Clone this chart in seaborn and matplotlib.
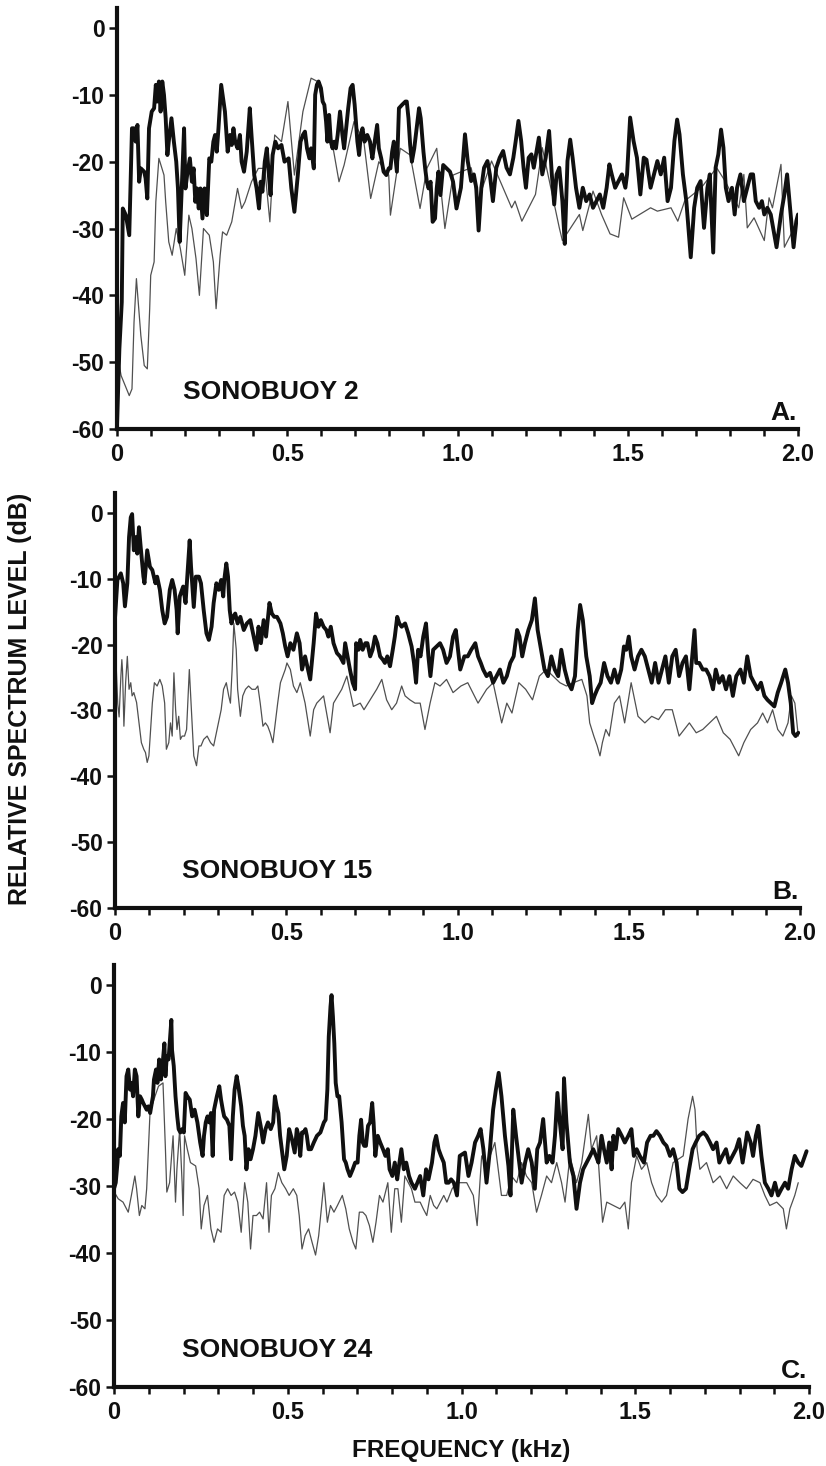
import numpy as np
import pandas as pd
import matplotlib
matplotlib.use("Agg")
import matplotlib.pyplot as plt
import seaborn as sns

# digitised spectra: (frequency in kHz, relative level in dB)
# "strong" = heavy trace, "weak" = thin trace

A_STRONG = [
    (0.000, -59.5), (0.007, -48.0), (0.014, -41.0), (0.017, -27.0), (0.026, -28.0), (0.036, -31.0),
    (0.044, -15.0), (0.050, -15.0), (0.055, -17.0), (0.060, -14.5), (0.065, -23.0), (0.070, -21.0),
    (0.080, -21.5), (0.084, -22.5), (0.089, -25.5), (0.094, -15.0), (0.102, -12.5), (0.109, -12.0),
    (0.114, -8.5), (0.118, -11.0), (0.123, -8.0), (0.128, -12.5), (0.133, -8.0), (0.138, -10.0),
    (0.143, -13.5), (0.148, -19.0), (0.152, -17.0), (0.160, -13.5), (0.167, -17.0), (0.174, -20.0),
    (0.179, -24.0), (0.184, -32.0), (0.191, -23.0), (0.197, -15.0), (0.201, -24.0), (0.206, -22.0),
    (0.214, -19.5), (0.220, -23.0), (0.225, -21.0), (0.230, -26.0), (0.235, -24.0), (0.240, -27.0),
    (0.245, -24.0), (0.251, -28.5), (0.257, -24.0), (0.264, -28.0), (0.271, -19.5), (0.277, -20.0),
    (0.283, -17.0), (0.288, -16.0), (0.293, -18.5), (0.298, -15.0), (0.306, -8.5), (0.313, -11.0),
    (0.317, -12.5), (0.325, -18.5), (0.332, -16.0), (0.337, -17.5), (0.342, -15.0), (0.347, -17.0),
    (0.354, -18.0), (0.361, -16.0), (0.366, -20.0), (0.373, -21.5), (0.381, -18.5), (0.390, -12.0),
    (0.395, -16.0), (0.403, -22.0), (0.410, -24.0), (0.417, -27.0), (0.422, -23.0), (0.427, -24.5),
    (0.434, -20.0), (0.440, -18.0), (0.446, -22.0), (0.451, -25.0), (0.457, -19.0), (0.465, -17.0),
    (0.473, -18.0), (0.483, -17.5), (0.492, -20.0), (0.504, -19.5), (0.512, -24.0), (0.521, -27.5),
    (0.531, -22.0), (0.539, -17.0), (0.546, -16.0), (0.552, -15.5), (0.558, -18.0), (0.565, -19.5),
    (0.570, -18.0), (0.578, -21.0), (0.582, -10.0), (0.587, -8.5), (0.592, -8.0), (0.599, -9.0),
    (0.604, -11.0), (0.609, -11.5), (0.614, -14.0), (0.618, -17.0), (0.623, -13.0), (0.628, -17.0),
    (0.633, -18.0), (0.638, -17.0), (0.643, -18.0), (0.648, -16.0), (0.655, -12.5), (0.662, -16.0),
    (0.667, -18.0), (0.673, -15.0), (0.679, -12.0), (0.686, -9.0), (0.692, -8.5), (0.698, -11.5),
    (0.706, -17.0), (0.711, -19.0), (0.716, -16.0), (0.721, -15.0), (0.727, -17.0), (0.735, -16.0),
    (0.743, -17.0), (0.750, -19.5), (0.754, -18.0), (0.764, -14.5), (0.769, -18.0), (0.776, -19.5),
    (0.783, -21.5), (0.791, -22.0), (0.798, -21.0), (0.803, -21.0), (0.808, -18.5), (0.813, -17.0),
    (0.817, -19.0), (0.822, -21.5), (0.828, -12.0), (0.837, -11.5), (0.847, -11.0), (0.851, -11.0),
    (0.856, -13.5), (0.861, -17.5), (0.866, -20.0), (0.873, -18.0), (0.881, -14.5), (0.887, -12.0),
    (0.892, -13.5), (0.900, -18.5), (0.905, -21.0), (0.910, -23.0), (0.915, -24.0), (0.921, -23.0),
    (0.927, -29.0), (0.934, -28.5), (0.939, -24.0), (0.944, -21.5), (0.950, -25.0), (0.958, -20.5),
    (0.968, -21.0), (0.978, -21.5), (0.987, -23.0), (0.997, -27.0), (1.010, -23.9), (1.022, -15.9),
    (1.030, -19.9), (1.040, -22.9), (1.048, -21.9), (1.055, -23.9), (1.062, -30.3), (1.070, -23.9),
    (1.078, -20.9), (1.088, -19.9), (1.095, -21.9), (1.104, -25.9), (1.114, -20.9), (1.124, -19.4),
    (1.134, -18.4), (1.144, -20.9), (1.154, -21.9), (1.164, -19.4), (1.171, -16.9), (1.179, -13.9),
    (1.187, -16.9), (1.194, -20.9), (1.201, -23.9), (1.209, -19.4), (1.217, -18.9), (1.224, -20.9),
    (1.239, -16.4), (1.249, -21.9), (1.259, -19.4), (1.269, -15.4), (1.277, -21.9), (1.284, -26.4),
    (1.291, -21.9), (1.299, -20.9), (1.308, -25.9), (1.315, -32.3), (1.323, -19.9), (1.331, -16.7),
    (1.338, -19.4), (1.348, -23.9), (1.358, -26.9), (1.368, -23.9), (1.378, -25.9), (1.388, -24.9),
    (1.398, -26.9), (1.408, -25.9), (1.418, -24.9), (1.428, -26.9), (1.438, -23.9), (1.446, -20.4),
    (1.453, -21.9), (1.463, -23.9), (1.473, -22.9), (1.483, -21.9), (1.493, -23.9), (1.498, -21.9),
    (1.507, -13.4), (1.517, -16.9), (1.527, -19.4), (1.537, -24.9), (1.547, -19.4), (1.555, -19.7),
    (1.567, -23.9), (1.577, -21.9), (1.587, -19.9), (1.597, -21.9), (1.607, -19.4), (1.617, -25.9),
    (1.627, -23.9), (1.637, -16.9), (1.645, -13.7), (1.652, -15.9), (1.662, -21.9), (1.672, -25.9),
    (1.685, -34.3), (1.695, -26.9), (1.704, -23.9), (1.714, -22.9), (1.724, -29.9), (1.734, -23.9),
    (1.741, -21.9), (1.751, -33.6), (1.758, -20.9), (1.766, -18.9), (1.774, -15.2), (1.781, -17.9),
    (1.788, -23.9), (1.796, -25.9), (1.806, -23.9), (1.814, -27.9), (1.821, -23.9), (1.831, -21.9),
    (1.841, -25.9), (1.851, -23.9), (1.861, -21.9), (1.868, -21.9), (1.876, -25.9), (1.886, -26.9),
    (1.894, -25.9), (1.901, -27.9), (1.910, -26.9), (1.920, -27.9), (1.930, -30.8), (1.937, -32.8),
    (1.950, -27.9), (1.960, -24.9), (1.968, -21.9), (1.975, -25.9), (1.987, -32.8), (1.995, -28.9),
    (2.000, -27.9),
]

A_WEAK = [
    (0.005, -50.0), (0.012, -52.0), (0.036, -55.0), (0.044, -54.0), (0.050, -44.0), (0.057, -37.5),
    (0.070, -46.0), (0.080, -50.5), (0.089, -51.0), (0.096, -42.0), (0.099, -37.0), (0.109, -35.0),
    (0.114, -26.0), (0.123, -19.5), (0.138, -22.0), (0.143, -26.0), (0.152, -32.0), (0.162, -34.0),
    (0.174, -30.0), (0.186, -33.0), (0.199, -37.0), (0.211, -28.0), (0.220, -30.0), (0.232, -34.5),
    (0.242, -40.0), (0.254, -30.0), (0.271, -31.0), (0.283, -35.0), (0.291, -42.0), (0.303, -34.0),
    (0.310, -30.5), (0.322, -31.0), (0.337, -29.0), (0.354, -24.0), (0.366, -27.0), (0.376, -26.0),
    (0.395, -23.0), (0.415, -21.0), (0.434, -21.0), (0.449, -29.0), (0.463, -16.0), (0.483, -17.0),
    (0.502, -11.0), (0.521, -22.0), (0.546, -12.5), (0.570, -7.5), (0.589, -8.0), (0.609, -12.0),
    (0.628, -16.0), (0.652, -23.0), (0.667, -20.5), (0.696, -14.0), (0.725, -17.0), (0.745, -25.5),
    (0.769, -20.0), (0.798, -22.0), (0.803, -28.0), (0.832, -18.0), (0.861, -19.0), (0.890, -27.0),
    (0.910, -21.0), (0.939, -18.0), (0.963, -30.0), (0.987, -22.0), (1.040, -20.9), (1.060, -25.9),
    (1.100, -19.9), (1.159, -26.9), (1.169, -25.9), (1.189, -28.9), (1.229, -24.9), (1.249, -17.9),
    (1.299, -29.9), (1.308, -31.8), (1.358, -27.9), (1.368, -30.3), (1.398, -24.4), (1.423, -27.9),
    (1.448, -30.8), (1.473, -31.3), (1.488, -25.4), (1.512, -28.6), (1.567, -26.9), (1.587, -27.4),
    (1.627, -26.9), (1.647, -28.9), (1.667, -25.9), (1.716, -23.9), (1.761, -20.9), (1.786, -22.9),
    (1.826, -26.9), (1.841, -21.9), (1.851, -29.9), (1.871, -28.4), (1.901, -31.8), (1.915, -25.4),
    (1.925, -26.9), (1.950, -20.4), (1.960, -32.8), (1.985, -30.3), (2.000, -28.0),
]

B_STRONG = [
    (0.000, -16.0), (0.007, -10.2), (0.017, -9.2), (0.024, -10.7), (0.029, -14.2), (0.036, -10.7),
    (0.041, -3.7), (0.046, -0.7), (0.050, -0.2), (0.055, -5.7), (0.060, -3.7), (0.065, -6.2),
    (0.070, -2.2), (0.075, -5.2), (0.083, -9.7), (0.086, -10.7), (0.094, -5.7), (0.102, -8.2),
    (0.109, -8.7), (0.118, -10.7), (0.123, -9.7), (0.131, -11.7), (0.138, -14.8), (0.145, -16.8),
    (0.152, -15.8), (0.160, -11.7), (0.167, -10.2), (0.174, -11.7), (0.180, -14.8), (0.183, -18.3),
    (0.189, -12.7), (0.199, -11.2), (0.206, -13.7), (0.211, -9.7), (0.218, -4.2), (0.222, -8.2),
    (0.230, -14.3), (0.236, -9.7), (0.245, -9.7), (0.251, -10.7), (0.259, -14.8), (0.267, -18.3),
    (0.274, -19.3), (0.282, -17.3), (0.288, -13.7), (0.296, -10.7), (0.303, -11.7), (0.310, -10.2),
    (0.316, -12.7), (0.319, -10.2), (0.325, -7.7), (0.330, -9.7), (0.335, -14.8), (0.340, -16.8),
    (0.345, -15.8), (0.351, -15.3), (0.358, -16.8), (0.366, -15.8), (0.376, -17.8), (0.385, -16.8),
    (0.395, -16.3), (0.405, -18.8), (0.413, -20.8), (0.419, -17.3), (0.426, -19.8), (0.434, -16.3),
    (0.441, -18.8), (0.446, -16.3), (0.451, -13.7), (0.458, -15.3), (0.465, -15.8), (0.473, -15.8),
    (0.483, -16.8), (0.490, -18.3), (0.497, -20.3), (0.504, -21.8), (0.512, -19.8), (0.521, -20.8),
    (0.531, -18.3), (0.539, -19.8), (0.546, -23.8), (0.555, -21.8), (0.570, -25.3), (0.580, -19.8),
    (0.587, -15.3), (0.594, -17.3), (0.601, -16.3), (0.609, -17.3), (0.617, -17.8), (0.623, -18.8),
    (0.630, -17.3), (0.638, -19.8), (0.648, -21.3), (0.657, -21.8), (0.667, -22.8), (0.672, -19.8),
    (0.679, -21.8), (0.686, -23.8), (0.694, -25.8), (0.701, -26.8), (0.704, -19.8), (0.711, -20.8),
    (0.716, -19.3), (0.723, -20.8), (0.731, -19.8), (0.737, -19.8), (0.745, -21.8), (0.752, -20.8),
    (0.759, -18.8), (0.766, -19.8), (0.774, -21.8), (0.782, -22.3), (0.788, -22.8), (0.795, -21.8),
    (0.803, -23.3), (0.811, -20.8), (0.817, -18.8), (0.824, -15.8), (0.830, -16.8), (0.837, -17.3),
    (0.847, -16.8), (0.856, -18.3), (0.866, -20.3), (0.873, -22.8), (0.879, -25.8), (0.885, -20.8),
    (0.892, -21.8), (0.900, -18.8), (0.908, -16.8), (0.915, -21.8), (0.921, -24.8), (0.929, -20.8),
    (0.939, -20.3), (0.949, -19.8), (0.958, -20.8), (0.968, -22.8), (0.978, -21.8), (0.987, -18.8),
    (0.995, -17.8), (1.008, -23.8), (1.020, -21.8), (1.030, -21.8), (1.040, -20.8), (1.052, -19.8),
    (1.060, -21.8), (1.068, -22.8), (1.075, -23.8), (1.085, -24.8), (1.095, -24.3), (1.104, -25.8),
    (1.114, -24.8), (1.124, -23.8), (1.134, -25.8), (1.144, -24.8), (1.154, -22.8), (1.164, -21.8),
    (1.174, -17.8), (1.181, -18.8), (1.189, -21.8), (1.197, -19.8), (1.207, -17.8), (1.217, -16.3),
    (1.226, -13.0), (1.234, -17.8), (1.244, -20.8), (1.254, -23.8), (1.264, -24.8), (1.274, -21.8),
    (1.284, -23.8), (1.294, -24.8), (1.303, -20.8), (1.313, -23.8), (1.323, -25.8), (1.333, -26.8),
    (1.343, -24.8), (1.351, -17.8), (1.358, -14.0), (1.366, -16.3), (1.376, -21.8), (1.386, -24.8),
    (1.393, -28.9), (1.400, -27.8), (1.408, -26.8), (1.418, -25.8), (1.428, -22.8), (1.438, -24.8),
    (1.448, -25.8), (1.458, -23.8), (1.468, -25.8), (1.478, -23.8), (1.486, -20.3), (1.493, -20.8),
    (1.500, -18.8), (1.507, -21.8), (1.517, -23.8), (1.527, -21.8), (1.537, -20.8), (1.547, -21.8),
    (1.557, -23.8), (1.567, -25.8), (1.577, -22.8), (1.587, -25.8), (1.597, -23.8), (1.607, -21.8),
    (1.617, -25.8), (1.627, -21.8), (1.637, -20.8), (1.647, -24.8), (1.657, -22.8), (1.667, -21.8),
    (1.677, -26.8), (1.692, -17.8), (1.697, -22.8), (1.706, -22.8), (1.716, -23.8), (1.726, -23.8),
    (1.736, -24.8), (1.746, -26.8), (1.754, -23.8), (1.764, -25.8), (1.774, -24.8), (1.784, -26.8),
    (1.794, -24.8), (1.804, -27.8), (1.814, -24.8), (1.826, -23.8), (1.836, -25.8), (1.846, -21.8),
    (1.856, -24.8), (1.866, -25.8), (1.876, -26.8), (1.886, -25.8), (1.896, -27.8), (1.905, -28.4),
    (1.915, -28.9), (1.925, -29.4), (1.935, -27.3), (1.945, -25.8), (1.957, -23.8), (1.965, -25.8),
    (1.973, -28.9), (1.980, -33.4), (1.987, -33.9), (1.995, -33.4),
]

B_WEAK = [
    (0.000, -30.0), (0.004, -24.0), (0.008, -29.0), (0.012, -31.0), (0.017, -25.0), (0.020, -22.3),
    (0.022, -24.0), (0.026, -32.4), (0.031, -25.8), (0.036, -21.8), (0.041, -26.8), (0.046, -25.8),
    (0.050, -27.8), (0.055, -27.3), (0.063, -28.8), (0.070, -31.9), (0.077, -34.9), (0.084, -35.9),
    (0.089, -36.4), (0.094, -37.9), (0.099, -36.9), (0.104, -32.9), (0.109, -28.9), (0.115, -25.8),
    (0.123, -26.3), (0.131, -25.3), (0.138, -26.3), (0.145, -28.9), (0.150, -35.9), (0.157, -34.9),
    (0.162, -31.9), (0.167, -33.9), (0.172, -24.3), (0.177, -29.9), (0.181, -32.9), (0.186, -30.9),
    (0.191, -34.4), (0.196, -33.9), (0.203, -33.9), (0.209, -32.9), (0.217, -23.8), (0.223, -29.9),
    (0.230, -36.9), (0.238, -38.4), (0.245, -35.4), (0.251, -35.4), (0.259, -34.4), (0.269, -33.9),
    (0.279, -34.9), (0.288, -35.4), (0.298, -32.9), (0.310, -29.9), (0.317, -26.8), (0.325, -25.8),
    (0.332, -27.8), (0.337, -28.9), (0.342, -23.8), (0.347, -16.8), (0.354, -20.8), (0.358, -26.8),
    (0.366, -30.9), (0.373, -27.8), (0.381, -26.8), (0.390, -26.3), (0.400, -26.8), (0.410, -26.8),
    (0.417, -26.3), (0.424, -28.9), (0.432, -32.4), (0.439, -31.9), (0.446, -32.4), (0.453, -33.4),
    (0.461, -34.9), (0.468, -31.9), (0.475, -28.9), (0.483, -25.8), (0.490, -24.8), (0.497, -23.8),
    (0.502, -22.8), (0.512, -23.8), (0.521, -26.3), (0.531, -27.3), (0.541, -25.8), (0.555, -28.9),
    (0.570, -33.9), (0.580, -29.9), (0.589, -28.9), (0.609, -27.8), (0.628, -33.4), (0.638, -28.9),
    (0.662, -26.8), (0.677, -24.8), (0.696, -29.4), (0.716, -28.9), (0.727, -29.9), (0.745, -28.4),
    (0.764, -26.8), (0.779, -25.3), (0.793, -28.4), (0.808, -29.9), (0.822, -28.9), (0.837, -26.3),
    (0.847, -27.8), (0.861, -28.4), (0.876, -28.9), (0.891, -28.9), (0.905, -32.9), (0.920, -28.9),
    (0.934, -25.8), (0.949, -26.3), (0.968, -25.3), (0.987, -27.3), (1.010, -26.3), (1.030, -25.8),
    (1.060, -28.9), (1.085, -26.8), (1.104, -25.8), (1.129, -31.9), (1.144, -28.9), (1.159, -30.4),
    (1.179, -25.8), (1.199, -26.8), (1.219, -28.4), (1.239, -24.8), (1.259, -23.8), (1.279, -24.8),
    (1.299, -25.8), (1.318, -26.3), (1.338, -25.8), (1.363, -25.3), (1.378, -27.8), (1.386, -31.9),
    (1.398, -33.9), (1.408, -35.4), (1.416, -36.9), (1.423, -34.9), (1.433, -32.9), (1.443, -33.9),
    (1.458, -28.9), (1.473, -27.8), (1.488, -31.9), (1.507, -25.8), (1.527, -30.9), (1.547, -31.9),
    (1.567, -30.9), (1.587, -31.4), (1.607, -29.9), (1.627, -29.9), (1.647, -33.9), (1.662, -32.9),
    (1.677, -31.9), (1.697, -33.4), (1.716, -32.9), (1.736, -31.9), (1.756, -30.9), (1.776, -33.4),
    (1.796, -34.4), (1.821, -36.9), (1.836, -34.9), (1.856, -32.9), (1.876, -31.9), (1.891, -30.4),
    (1.905, -31.9), (1.920, -29.9), (1.935, -32.9), (1.950, -33.9), (1.965, -31.9), (1.975, -27.8),
    (1.985, -28.9), (1.995, -33.9),
]

C_STRONG = [
    (0.000, -30.4), (0.005, -29.5), (0.010, -26.5), (0.012, -24.5), (0.017, -25.5), (0.021, -19.6),
    (0.026, -17.6), (0.031, -20.5), (0.036, -13.6), (0.041, -12.6), (0.046, -15.6), (0.050, -14.6),
    (0.055, -16.6), (0.060, -12.6), (0.065, -13.6), (0.070, -19.6), (0.075, -16.6), (0.080, -17.1),
    (0.084, -17.6), (0.094, -18.6), (0.099, -18.1), (0.104, -19.1), (0.112, -16.6), (0.115, -14.1),
    (0.121, -12.6), (0.125, -14.6), (0.130, -11.1), (0.135, -14.1), (0.141, -11.1), (0.145, -8.7),
    (0.148, -13.6), (0.152, -10.6), (0.157, -11.1), (0.165, -5.2), (0.167, -9.7), (0.172, -12.1),
    (0.177, -16.6), (0.182, -19.6), (0.186, -21.5), (0.191, -22.0), (0.196, -21.5), (0.201, -22.0),
    (0.206, -16.1), (0.211, -16.6), (0.218, -17.1), (0.225, -19.6), (0.232, -18.6), (0.240, -20.5),
    (0.248, -23.5), (0.255, -25.5), (0.259, -22.5), (0.264, -20.5), (0.269, -19.6), (0.274, -20.5),
    (0.279, -19.1), (0.284, -25.5), (0.288, -18.6), (0.296, -16.6), (0.303, -15.1), (0.308, -17.1),
    (0.313, -18.6), (0.317, -19.6), (0.325, -20.1), (0.332, -21.0), (0.337, -26.0), (0.342, -19.6),
    (0.347, -15.6), (0.353, -13.6), (0.358, -15.1), (0.366, -18.1), (0.371, -21.0), (0.376, -22.5),
    (0.381, -27.5), (0.387, -24.5), (0.393, -26.0), (0.400, -24.5), (0.407, -22.5), (0.415, -19.1),
    (0.422, -21.0), (0.429, -23.5), (0.436, -21.5), (0.443, -20.5), (0.451, -21.5), (0.458, -20.5),
    (0.463, -16.6), (0.468, -18.1), (0.473, -19.1), (0.478, -22.5), (0.484, -25.0), (0.490, -27.5),
    (0.497, -25.5), (0.504, -21.5), (0.512, -23.0), (0.520, -25.0), (0.526, -21.5), (0.531, -22.5),
    (0.536, -25.5), (0.541, -22.0), (0.546, -22.0), (0.551, -21.5), (0.555, -22.5), (0.560, -24.5),
    (0.567, -24.5), (0.575, -23.5), (0.584, -22.5), (0.594, -22.0), (0.604, -20.5), (0.609, -20.1),
    (0.614, -15.6), (0.618, -7.7), (0.623, -3.2), (0.626, -1.5), (0.630, -4.7), (0.634, -8.7),
    (0.638, -14.6), (0.643, -16.6), (0.648, -16.6), (0.655, -20.5), (0.662, -26.0), (0.667, -26.5),
    (0.672, -27.5), (0.679, -28.5), (0.687, -27.5), (0.694, -26.5), (0.701, -26.5), (0.706, -22.5),
    (0.711, -20.1), (0.716, -23.5), (0.720, -24.0), (0.725, -24.0), (0.731, -21.0), (0.737, -20.5),
    (0.743, -17.6), (0.747, -20.5), (0.752, -25.5), (0.759, -22.5), (0.766, -23.5), (0.774, -24.5),
    (0.781, -25.5), (0.788, -24.5), (0.793, -27.5), (0.801, -28.5), (0.808, -26.5), (0.815, -29.0),
    (0.820, -27.0), (0.827, -24.5), (0.834, -27.5), (0.841, -26.5), (0.849, -28.5), (0.856, -29.5),
    (0.866, -30.4), (0.873, -29.5), (0.881, -28.5), (0.890, -31.4), (0.898, -27.5), (0.905, -29.0),
    (0.915, -26.5), (0.922, -23.5), (0.927, -22.5), (0.934, -24.5), (0.941, -25.5), (0.949, -26.5),
    (0.956, -29.5), (0.963, -29.5), (0.970, -29.0), (0.978, -29.5), (0.987, -31.4), (0.995, -25.5),
    (1.010, -25.0), (1.020, -28.5), (1.029, -26.5), (1.039, -23.5), (1.048, -22.5), (1.055, -21.5),
    (1.063, -24.5), (1.072, -29.5), (1.082, -24.5), (1.091, -18.6), (1.099, -15.6), (1.107, -13.1),
    (1.115, -16.6), (1.125, -22.5), (1.135, -27.0), (1.141, -31.4), (1.149, -18.6), (1.157, -22.5),
    (1.166, -26.5), (1.173, -29.5), (1.183, -26.5), (1.192, -24.5), (1.202, -26.5), (1.211, -30.4),
    (1.218, -24.5), (1.226, -23.5), (1.235, -20.0), (1.245, -26.5), (1.253, -25.5), (1.262, -26.5),
    (1.269, -22.5), (1.276, -16.1), (1.283, -20.5), (1.291, -24.5), (1.295, -13.9), (1.302, -20.5),
    (1.312, -26.5), (1.322, -28.5), (1.331, -33.4), (1.341, -29.5), (1.350, -27.5), (1.360, -26.5),
    (1.370, -25.5), (1.379, -24.5), (1.387, -25.5), (1.394, -26.5), (1.403, -22.5), (1.410, -24.5),
    (1.418, -26.5), (1.425, -23.5), (1.432, -27.5), (1.437, -22.5), (1.444, -24.5), (1.451, -21.5),
    (1.461, -22.5), (1.470, -23.5), (1.480, -22.5), (1.489, -21.5), (1.496, -25.5), (1.504, -24.5),
    (1.513, -25.5), (1.525, -26.5), (1.534, -23.5), (1.544, -22.5), (1.552, -22.5), (1.561, -21.8),
    (1.571, -22.5), (1.581, -23.5), (1.590, -24.0), (1.600, -25.5), (1.609, -24.5), (1.619, -26.5),
    (1.627, -30.4), (1.636, -30.9), (1.646, -30.4), (1.655, -27.5), (1.665, -24.5), (1.674, -23.5),
    (1.684, -22.5), (1.696, -22.0), (1.705, -22.5), (1.715, -23.5), (1.724, -24.5), (1.734, -23.5),
    (1.742, -26.5), (1.751, -25.5), (1.761, -24.5), (1.770, -26.5), (1.780, -25.5), (1.790, -24.5),
    (1.799, -23.0), (1.809, -26.5), (1.815, -24.5), (1.822, -22.0), (1.832, -23.5), (1.839, -25.5),
    (1.847, -22.5), (1.854, -21.0), (1.863, -25.5), (1.873, -29.5), (1.883, -30.4), (1.892, -31.4),
    (1.902, -29.5), (1.911, -31.4), (1.921, -30.4), (1.931, -29.5), (1.940, -30.4), (1.950, -27.5),
    (1.959, -25.5), (1.969, -26.5), (1.978, -27.0), (1.988, -25.5), (1.993, -24.8),
]

C_WEAK = [
    (0.000, -30.4), (0.002, -31.0), (0.012, -31.9), (0.026, -32.4), (0.041, -33.9), (0.050, -31.4),
    (0.060, -28.5), (0.065, -30.4), (0.073, -34.4), (0.080, -32.9), (0.089, -33.4), (0.094, -30.4),
    (0.099, -24.5), (0.104, -18.6), (0.112, -17.6), (0.118, -16.6), (0.128, -15.1), (0.141, -14.6),
    (0.148, -24.5), (0.152, -30.9), (0.160, -29.5), (0.170, -22.5), (0.177, -32.4), (0.181, -27.5),
    (0.189, -21.5), (0.196, -29.5), (0.199, -34.4), (0.203, -22.5), (0.211, -24.5), (0.220, -26.5),
    (0.235, -27.0), (0.245, -30.4), (0.251, -36.4), (0.259, -32.9), (0.269, -31.4), (0.279, -36.4),
    (0.288, -38.4), (0.298, -36.4), (0.308, -36.9), (0.317, -31.4), (0.327, -30.4), (0.337, -31.4),
    (0.347, -30.9), (0.356, -32.4), (0.366, -36.9), (0.376, -29.5), (0.385, -32.4), (0.393, -39.4),
    (0.400, -34.4), (0.410, -34.4), (0.419, -33.9), (0.429, -34.9), (0.439, -29.5), (0.446, -36.9),
    (0.453, -31.4), (0.463, -30.4), (0.473, -28.0), (0.483, -29.5), (0.494, -30.4), (0.504, -31.4),
    (0.516, -30.4), (0.526, -31.4), (0.533, -34.4), (0.541, -39.4), (0.550, -37.4), (0.560, -36.4),
    (0.570, -38.4), (0.580, -40.3), (0.589, -37.4), (0.604, -29.5), (0.614, -35.4), (0.623, -32.9),
    (0.633, -33.9), (0.643, -32.9), (0.657, -31.4), (0.667, -33.4), (0.677, -36.4), (0.688, -38.4),
    (0.696, -39.4), (0.706, -33.9), (0.716, -33.9), (0.725, -34.4), (0.735, -35.9), (0.745, -38.4),
    (0.754, -35.4), (0.764, -31.4), (0.774, -32.4), (0.788, -29.5), (0.798, -36.9), (0.808, -30.4),
    (0.817, -30.4), (0.827, -35.4), (0.837, -28.5), (0.847, -29.5), (0.856, -30.4), (0.866, -32.4),
    (0.881, -32.4), (0.890, -33.4), (0.900, -34.4), (0.910, -31.4), (0.920, -32.9), (0.929, -33.4),
    (0.939, -32.4), (0.949, -31.4), (0.958, -32.4), (0.973, -30.4), (0.987, -29.5), (1.015, -29.5),
    (1.034, -31.4), (1.045, -35.9), (1.058, -25.5), (1.072, -27.0), (1.096, -23.5), (1.115, -31.4),
    (1.130, -31.4), (1.144, -28.5), (1.159, -29.5), (1.173, -26.5), (1.187, -28.5), (1.202, -29.5),
    (1.216, -33.9), (1.230, -31.4), (1.245, -28.5), (1.259, -29.5), (1.274, -26.5), (1.288, -29.5),
    (1.298, -32.4), (1.312, -25.5), (1.331, -29.5), (1.346, -26.5), (1.365, -19.3), (1.374, -24.5),
    (1.389, -22.5), (1.398, -29.5), (1.406, -35.4), (1.418, -32.4), (1.437, -32.9), (1.456, -33.4),
    (1.470, -32.4), (1.480, -36.4), (1.489, -29.5), (1.504, -25.5), (1.518, -27.5), (1.533, -26.5),
    (1.547, -29.5), (1.561, -31.4), (1.576, -32.4), (1.590, -31.4), (1.609, -26.5), (1.638, -25.5),
    (1.652, -20.0), (1.665, -16.6), (1.672, -18.6), (1.678, -24.5), (1.686, -27.5), (1.705, -26.5),
    (1.724, -29.5), (1.744, -28.5), (1.763, -30.4), (1.782, -28.5), (1.801, -29.5), (1.820, -30.4),
    (1.839, -29.0), (1.859, -29.5), (1.873, -31.4), (1.887, -32.9), (1.907, -32.4), (1.926, -33.4),
    (1.935, -36.4), (1.945, -33.4), (1.959, -31.4), (1.969, -29.5),
]

PANEL_NAMES = ["SONOBUOY 2", "SONOBUOY 15", "SONOBUOY 24"]
PANEL_TAGS = ["A.", "B.", "C."]
Y_TICKS = [0, -10, -20, -30, -40, -50, -60]
Y_TICK_LABELS = ["0", "-10", "-20", "-30", "-40", "-50", "-60"]
X_LABELLED = {0.0: "0", 0.5: "0.5", 1.0: "1.0", 1.5: "1.5", 2.0: "2.0"}

sns.set_style("ticks")
plt.rcParams["font.family"] = ["Liberation Sans", "DejaVu Sans"]
plt.rcParams["font.weight"] = "bold"

INK = "#101010"
fig = plt.figure(figsize=(8.26, 14.66), dpi=100)

# axes rectangles in figure fractions (left, bottom, width, height)
rects = [
    (117 / 826, 1 - 429 / 1466, 681 / 826, 421 / 1466),
    (115 / 826, 1 - 908 / 1466, 685 / 826, 415 / 1466),
    (114 / 826, 1 - 1387 / 1466, 695 / 826, 422 / 1466),
]
series = [(A_STRONG, A_WEAK), (B_STRONG, B_WEAK), (C_STRONG, C_WEAK)]

for rect, (strong, weak), name, tag in zip(rects, series, PANEL_NAMES, PANEL_TAGS):
    ax = fig.add_axes(rect)
    weak_df = pd.DataFrame(weak, columns=["freq", "level"])
    strong_df = pd.DataFrame(strong, columns=["freq", "level"])
    sns.lineplot(data=weak_df, x="freq", y="level", ax=ax, color="#505050",
                 linewidth=0.9, estimator=None, sort=False)
    sns.lineplot(data=strong_df, x="freq", y="level", ax=ax, color=INK,
                 linewidth=2.8, estimator=None, sort=False)

    ax.set_xlim(0, 2.0)
    ax.set_ylim(-60, 3)
    xt = np.round(np.arange(0, 2.01, 0.1), 1)
    ax.set_xticks(xt)
    ax.set_xticklabels([X_LABELLED.get(float(t), "") for t in xt])
    ax.set_yticks(Y_TICKS)
    ax.set_yticklabels(Y_TICK_LABELS)
    ax.set_xlabel("")
    ax.set_ylabel("")
    sns.despine(ax=ax)
    for side in ["left", "bottom"]:
        ax.spines[side].set_linewidth(3.0)
        ax.spines[side].set_color(INK)
    ax.tick_params(axis="x", direction="out", length=5, width=1.8, pad=5,
                   labelsize=17, colors=INK)
    ax.tick_params(axis="y", direction="out", length=6, width=1.8, pad=3,
                   labelsize=16.5, colors=INK)
    for lab in ax.get_xticklabels() + ax.get_yticklabels():
        lab.set_fontweight("bold")

    ax.text(0.195, -55.5, name, fontsize=19, fontweight="bold", va="baseline", color=INK)
    ax.text(1.995, -58.6, tag, fontsize=19, fontweight="bold", va="baseline", ha="right",
            color=INK)

fig.text(0.024, 0.523, "RELATIVE SPECTRUM LEVEL (dB)", rotation=90, ha="center", va="center",
         fontsize=18, fontweight="bold", color=INK)
fig.text(461 / 826, 1 - 1450 / 1466, "FREQUENCY (kHz)", ha="center", va="center",
         fontsize=17.5, fontweight="bold", color=INK)

fig.savefig("out.png", dpi=100, facecolor="white")
